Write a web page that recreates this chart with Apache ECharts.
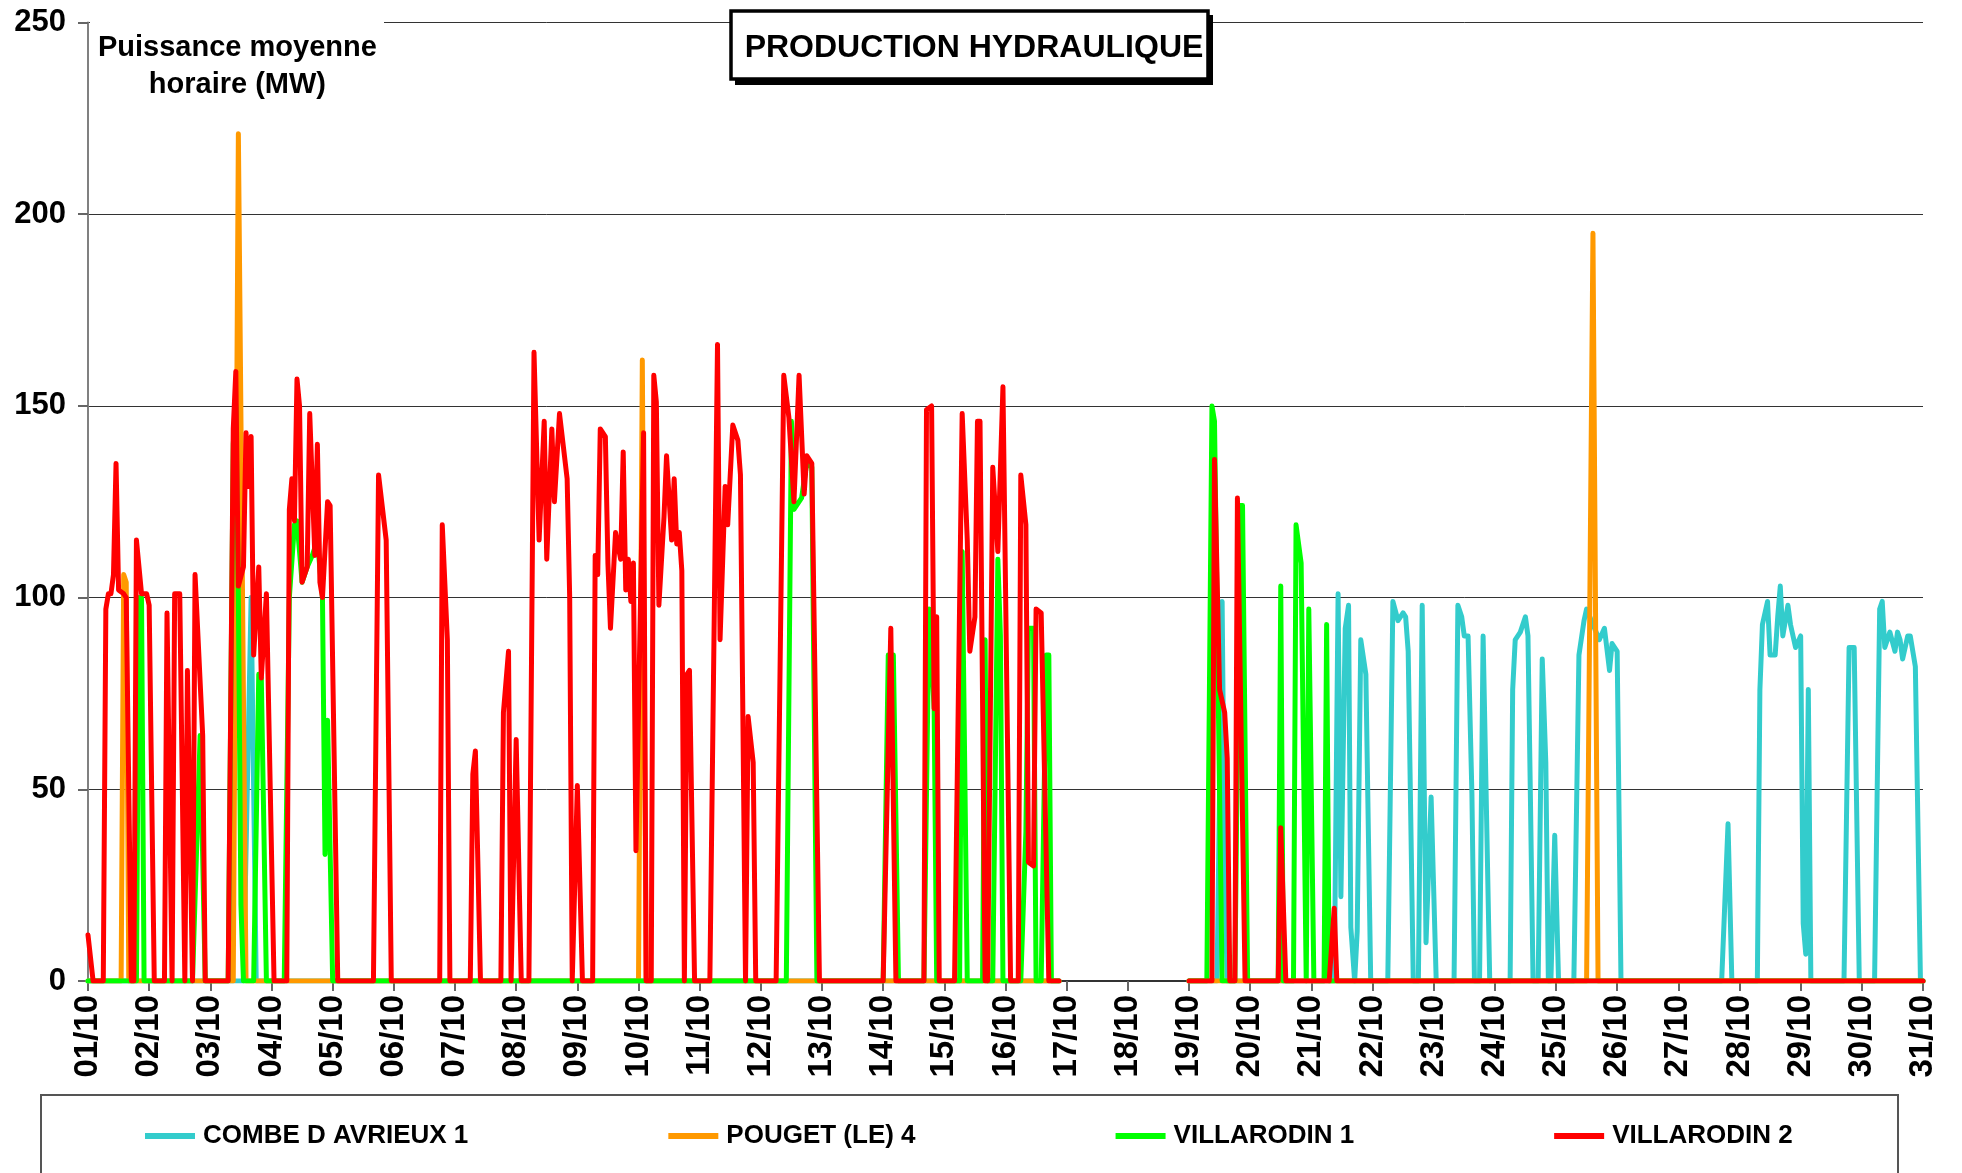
<!DOCTYPE html>
<html>
<head>
<meta charset="utf-8">
<title>Production hydraulique</title>
<script src="https://cdn.jsdelivr.net/npm/echarts@6/dist/echarts.min.js"></script>
<style>
  html, body { margin: 0; padding: 0; background: #fff; }
  #chart { width: 1962px; height: 1173px; }
</style>
</head>
<body>
<div id="chart"></div>
<script>
// tick labels, one per day (x axis is in hours from 01/10 00h)
var dayLabels = ['01/10', '02/10', '03/10', '04/10', '05/10', '06/10', '07/10', '08/10', '09/10', '10/10',
    '11/10', '12/10', '13/10', '14/10', '15/10', '16/10', '17/10', '18/10', '19/10', '20/10',
    '21/10', '22/10', '23/10', '24/10', '25/10', '26/10', '27/10', '28/10', '29/10', '30/10', '31/10'];

var seriesNames = ['COMBE D AVRIEUX 1', 'POUGET (LE) 4', 'VILLARODIN 1', 'VILLARODIN 2'];

// [hour, MW] ; null = no data (17/10 - 19/10)
var combeData = [
    [0, 0], [61, 0], [64, 100], [66, 0], [381, 0], [400, null], [432, 0], [443, 0], [445, 99], [446, 27], [447, 0],
    [489, 0], [490.5, 101], [491.6, 22], [493.3, 92], [494.6, 98], [495.5, 14], [497, 0], [498, 13], [499.4, 89], [501.4, 80], [503.3, 0],
    [510, 0], [512, 99], [514, 94], [516, 96], [517, 95], [518, 86], [520, 0], [522, 0], [523.5, 98], [525, 10], [527, 48], [529, 0],
    [536, 0], [537.5, 98], [539, 95], [540, 90], [541.5, 90], [543, 49], [544, 0], [546, 0], [547.4, 90], [550, 0],
    [558, 0], [559, 76], [560, 89], [562, 91], [564, 95], [565, 90], [566, 46], [567, 0],
    [569, 0], [570.6, 84], [572, 57], [573, 0], [574, 0], [575.5, 38], [577, 0],
    [583, 0], [585, 85], [587, 94], [588, 97], [593, 89], [595, 92], [597, 81], [598, 88], [600, 86], [601.5, 0],
    [641, 0], [643.5, 41], [645, 0],
    [655, 0], [656, 76], [657, 93], [659, 99], [660, 85], [662, 85], [663, 95], [664, 103], [665, 90], [667, 98], [668, 93],
    [670, 87], [672, 90], [673, 15], [674, 7], [675, 76], [676, 0],
    [689, 0], [691, 87], [693, 87], [695, 0],
    [701, 0], [703, 97], [704, 99], [705, 87], [707, 91], [709, 86], [710, 91], [711, 89], [712, 84], [714, 90], [715, 90],
    [717, 82], [719, 0], [720, 0]
];

var pougetData = [
    [0, 0], [13, 0], [14, 106], [15, 104], [16, 0], [57, 0], [59, 221], [62, 0], [216, 0], [217.5, 162], [219, 0],
    [381, 0], [400, null], [432, 0], [588, 0], [590.5, 195], [592.5, 0], [720, 0]
];

var villarodin1Data = [
    [0, 0], [19, 0], [20, 100], [21, 100], [22, 0],
    [41, 0], [44, 64], [46, 0],
    [55, 0], [57, 140], [58, 150], [59, 100], [60, 20], [61, 0], [65, 0], [67, 80], [68, 79], [69, 40], [70, 0],
    [77, 0], [79, 100], [81, 119], [82, 120], [84, 104], [86, 108], [88, 111], [90, 115], [92, 100], [93, 33], [94, 68], [96, 0],
    [274, 0], [276, 146], [277, 123], [280, 126], [282, 135], [284, 134], [286, 0],
    [312, 0], [314, 85], [316, 85], [318, 0],
    [328, 0], [330, 97], [332, 71], [333, 0],
    [342, 0], [343, 112], [345, 0],
    [351, 0], [352, 89], [353, 0],
    [355, 0], [357, 110], [358, 90], [359, 0],
    [366, 0], [368, 39], [369, 92], [371, 92], [372, 0], [374, 0], [376, 85], [377, 85], [378, 0], [381, 0],
    [400, null],
    [432, 0], [439, 0], [441, 150], [442, 146], [445, 0],
    [450, 0], [452, 124], [453, 124], [455, 0],
    [467, 0], [468, 103], [469, 0], [473, 0], [474, 119], [476, 109], [478, 0], [479, 97], [481, 0],
    [485, 0], [486, 93], [487, 0], [720, 0]
];

var villarodin2Data = [
    [0, 12], [2, 0],
    [6, 0], [7, 97], [8, 101], [9, 101], [10, 106], [11, 135], [12, 102], [14, 101], [15, 100], [17, 0],
    [18, 0], [19, 115], [21, 101], [23, 101], [24, 98], [26, 0],
    [30, 0], [31, 96], [33, 0], [34, 101], [36, 101], [38, 0], [39, 81], [41, 0], [42, 106], [45, 64], [46, 0],
    [55, 0], [57, 144], [58, 159], [59, 103], [61, 108], [62, 143], [63, 129], [64, 142], [65, 85], [67, 108], [68, 79], [70, 101], [73, 0],
    [78, 0], [79, 123], [80, 131], [81, 120], [82, 157], [83, 150], [84, 104], [86, 108], [87, 148], [89, 111], [90, 140],
    [91, 104], [92, 100], [94, 125], [95, 124], [98, 0],
    [112, 0], [114, 132], [117, 115], [119, 0],
    [138, 0], [139, 119], [141, 89], [142, 0],
    [150, 0], [151, 54], [152, 60], [154, 0],
    [162, 0], [163, 70], [165, 86], [166, 0], [168, 63], [170, 0],
    [173, 0], [175, 164], [177, 115], [179, 146], [180, 110], [182, 144], [183, 125], [185, 148], [188, 131], [189, 100], [190, 0],
    [192, 51], [194, 0],
    [198, 0], [199, 111], [200, 106], [201, 144], [203, 142], [204, 109], [205, 92], [207, 117], [209, 110], [210, 138],
    [211, 102], [212, 110], [213, 99], [214, 109], [215, 34], [218, 143], [219, 0],
    [221, 0], [222, 158], [223, 151], [224, 98], [226, 121], [227, 137], [229, 115], [230, 131], [231, 114], [232, 117],
    [233, 107], [234, 0], [235, 80], [236, 81], [238, 0],
    [244, 0], [247, 166], [248, 89], [250, 129], [251, 119], [253, 145], [255, 141], [256, 132], [258, 0], [259, 69], [261, 57], [262, 0],
    [270, 0], [273, 158], [275, 147], [277, 125], [279, 158], [281, 127], [282, 137], [284, 135], [287, 0],
    [312, 0], [315, 92], [317, 0],
    [328, 0], [329, 149], [331, 150], [332, 71], [333, 95], [334, 0],
    [340, 0], [343, 148], [345, 115], [346, 86], [348, 95], [349, 146], [350, 146], [352, 0],
    [353, 0], [355, 134], [357, 112], [359, 155], [362, 0],
    [365, 0], [366, 132], [368, 119], [369, 31], [371, 30], [372, 97], [374, 96], [377, 0], [381, 0],
    [400, null],
    [432, 0], [441, 0], [442, 136], [444, 76], [446, 70], [447, 58], [448, 0],
    [450, 0], [451, 126], [454, 0],
    [467, 0], [468, 40], [470, 0],
    [487, 0], [489, 19], [490, 0],
    [720, 0]
];

var seriesColors = ['#33CCCC', '#FF9900', '#00FF00', '#FF0000'];

var chart = {
    render: function () {
        var myChart = echarts.init(document.getElementById('chart'));
        var font = "'Liberation Sans', Arial, sans-serif";
        var allData = [combeData, pougetData, villarodin1Data, villarodin2Data];

        var series = seriesNames.map(function (name, i) {
            return {
                name: name,
                type: 'line',
                data: allData[i],
                symbol: 'none',
                connectNulls: false,
                color: seriesColors[i],
                lineStyle: { width: 5, color: seriesColors[i], cap: 'round', join: 'round' },
                z: 2 + i
            };
        });

        var option = {
            animation: false,
            backgroundColor: '#fff',
            title: {
                text: 'PRODUCTION HYDRAULIQUE',
                left: 969,
                top: 27,
                textAlign: 'center',
                z: 60,
                textStyle: { fontFamily: font, fontWeight: 'bold', fontSize: 32, color: '#000' }
            },
            grid: { left: 88, right: 39, top: 22.5, bottom: 192, containLabel: false },
            xAxis: {
                type: 'value',
                min: 0,
                max: 720,
                interval: 24,
                axisLine: { show: true, lineStyle: { color: '#333', width: 2 } },
                axisTick: { show: true, inside: false, length: 10, lineStyle: { color: '#666', width: 2 } },
                axisLabel: {
                    rotate: 90,
                    margin: 14,
                    fontFamily: font,
                    fontWeight: 'bold',
                    fontSize: 33,
                    color: '#000',
                    formatter: function (v) { return dayLabels[Math.round(v / 24)]; }
                },
                splitLine: { show: false }
            },
            yAxis: {
                type: 'value',
                min: 0,
                max: 250,
                interval: 50,
                axisLine: { show: true, lineStyle: { color: '#808080', width: 2 } },
                axisTick: { show: true, length: 10, lineStyle: { color: '#666', width: 2 } },
                axisLabel: { margin: 22, fontFamily: font, fontWeight: 'bold', fontSize: 31, color: '#000' },
                splitLine: { show: true, lineStyle: { color: '#333', width: 1 } }
            },
            legend: {
                data: seriesNames,
                left: 140,
                top: 1118,
                icon: 'rect',
                itemWidth: 50,
                itemHeight: 6,
                itemGap: 200,
                textStyle: { fontFamily: font, fontWeight: 'bold', fontSize: 26, color: '#000', padding: [0, 0, 0, 3] }
            },
            graphic: [
                // white patch under the y title, hides the 250 grid line
                { type: 'rect', z: 50, shape: { x: 90, y: 4, width: 294, height: 100 }, style: { fill: '#fff' } },
                {
                    type: 'text', z: 55, left: 238 - 140, top: 29,
                    style: {
                        text: 'Puissance moyenne\nhoraire (MW)',
                        x: 140,
                        textAlign: 'center',
                        font: 'bold 29px ' + font,
                        lineHeight: 37,
                        fill: '#000'
                    }
                },
                // title box with its drop shadow
                { type: 'rect', z: 50, shape: { x: 735, y: 15, width: 478, height: 70 }, style: { fill: '#000' } },
                { type: 'rect', z: 51, shape: { x: 731, y: 11, width: 477, height: 68 }, style: { fill: '#fff', stroke: '#000', lineWidth: 3.5 } },
                // legend frame, runs off the bottom of the picture
                { type: 'rect', z: 1, shape: { x: 41, y: 1095, width: 1857, height: 120 }, style: { fill: 'none', stroke: '#555', lineWidth: 2 } }
            ],
            series: series
        };

        myChart.setOption(option);
    }
};

chart.render();
</script>
</body>
</html>
